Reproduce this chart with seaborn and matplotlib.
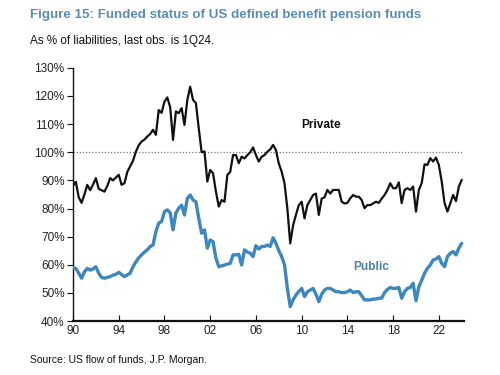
import numpy as np
import pandas as pd
import matplotlib
matplotlib.use("Agg")
import matplotlib.pyplot as plt
from matplotlib import font_manager
import seaborn as sns

# Quarterly funded status, 1Q90 .. 1Q24 (% of liabilities)
private = [
    88, 89.5, 84, 82,        # 1990
    85, 88.4, 86.5, 88.5,    # 1991
    90.8, 87, 86.5, 86,      # 1992
    88, 90.8, 90, 91,        # 1993
    92, 88.4, 89, 93,        # 1994
    95, 97, 100.2, 102.5,    # 1995
    103.8, 104.5, 105.6, 106.5,  # 1996
    108, 106.2, 115, 114,    # 1997
    118, 119.5, 116, 104.4,  # 1998
    114.5, 113.9, 115.7, 109.7,  # 1999
    118.6, 123.3, 118.6, 117.5,  # 2000
    108.5, 100, 100.3, 89.6, # 2001
    93.7, 92.5, 86, 80.7,    # 2002
    83, 82.4, 91.9, 93,      # 2003
    99, 99, 96.1, 98.4,      # 2004
    97.8, 99, 100, 101.7,    # 2005
    99, 96.7, 98.4, 99,      # 2006
    100.2, 101, 102.6, 100.8,  # 2007
    96, 93.1, 89, 80,        # 2008
    67.6, 74, 77.7, 81.2,    # 2009
    82.4, 76.5, 81.2, 83,    # 2010
    84.8, 85.3, 77.7, 83.5,  # 2011
    84, 86.6, 85.3, 86.6,    # 2012
    86.6, 86.6, 82.4, 81.8,  # 2013
    82, 83.6, 84.8, 84.2,    # 2014
    84.2, 83, 80.1, 81.2,    # 2015
    81.2, 81.8, 82.4, 82,    # 2016
    83.5, 84.8, 86.6, 89,    # 2017
    87.2, 87.2, 89.3, 81.9,  # 2018
    86.6, 87.2, 86.6, 87.8,  # 2019
    78.9, 86.6, 89, 95.7,    # 2020
    95.5, 97.9, 96.7, 98.1,  # 2021
    95.5, 89.6, 81.9, 78.9,  # 2022
    81.9, 84.8, 82.6, 87.8,  # 2023
    90.2,                    # 2024
]
public = [
    59, 58.7, 57, 55.2,      # 1990
    57.5, 58.7, 58.1, 58.5,  # 1991
    59.3, 57, 55.5, 55.2,    # 1992
    55.5, 55.8, 56.3, 56.6,  # 1993
    57.3, 56.5, 55.8, 56.4,  # 1994
    57, 59.3, 61, 62.5,      # 1995
    63.5, 64.5, 65.3, 66.5,  # 1996
    67, 71.8, 74.8, 75.4,    # 1997
    78.9, 79.5, 78.5, 72.4,  # 1998
    78.4, 80.1, 81.2, 77.7,  # 1999
    83.6, 84.8, 83, 82.4,    # 2000
    76.5, 71.2, 72.4, 65.9,  # 2001
    68.8, 68.2, 62.3, 59.3,  # 2002
    59.6, 59.9, 60.2, 60.5,  # 2003
    63.5, 63.5, 63.7, 59.9,  # 2004
    65.3, 64.5, 64.1, 62.9,  # 2005
    66.8, 65.6, 66.5, 66.5,  # 2006
    67, 66.5, 69.6, 67.6,    # 2007
    65, 62.9, 60, 51.6,      # 2008
    45.1, 47.5, 49.2, 50.5,  # 2009
    51.6, 48.7, 50.4, 51,    # 2010
    51.6, 49.5, 46.9, 49.5,  # 2011
    51, 51.6, 51.6, 51,      # 2012
    50.4, 50.4, 50.1, 50.1,  # 2013
    50.4, 51, 50.1, 50.4,    # 2014
    50.4, 49, 47.5, 47.5,    # 2015
    47.5, 47.8, 47.8, 48.1,  # 2016
    48.1, 50.1, 51.2, 51.9,  # 2017
    51.6, 51.6, 51.9, 48.1,  # 2018
    50.4, 51.6, 51.9, 53.4,  # 2019
    47.2, 52.2, 54.5, 57,    # 2020
    58.7, 59.9, 61.7, 62,    # 2021
    62.9, 60.5, 59.3, 62.9,  # 2022
    64.1, 64.7, 63.5, 65.9,  # 2023
    67.6,                    # 2024
]
start_year = 1990
x_ticks = [1990, 1994, 1998, 2002, 2006, 2010, 2014, 2018, 2022]
x_tick_labels = ["90", "94", "98", "02", "06", "10", "14", "18", "22"]
y_ticks = [40, 50, 60, 70, 80, 90, 100, 110, 120, 130]
y_tick_labels = [f"{v}%" for v in y_ticks]

n = len(private)
t = [start_year + i / 4 for i in range(n)]
df = pd.DataFrame({"t": t, "Private": private, "Public": public})

sns.set_style("white")
plt.rcParams["font.family"] = ["Liberation Sans", "DejaVu Sans"]

installed = {f.name for f in font_manager.fontManager.ttflist}
narrow = "Liberation Sans Narrow" if "Liberation Sans Narrow" in installed else "Liberation Sans"
tick_size = 9.5 if narrow == "Liberation Sans Narrow" else 8.5

fig = plt.figure(figsize=(5, 3.75), dpi=100)
ax = fig.add_axes([0.146, 0.144, 0.782, 0.675])

ax.axhline(100, color="#777777", lw=0.9, ls=(0, (1, 1.5)), zorder=1)
sns.lineplot(data=df, x="t", y="Private", ax=ax, color="#111111", lw=1.6, zorder=3)
sns.lineplot(data=df, x="t", y="Public", ax=ax, color="#3d87bf", lw=2.4, zorder=3)

ax.set_xlim(1990, 2024.2)
ax.set_ylim(40, 130)
ax.set_xticks(x_ticks)
ax.set_xticklabels(x_tick_labels)
ax.set_yticks(y_ticks)
ax.set_yticklabels(y_tick_labels)
ax.set_xlabel("")
ax.set_ylabel("")

for s in ["top", "right"]:
    ax.spines[s].set_visible(False)
ax.spines["left"].set_color("#111111")
ax.spines["left"].set_linewidth(1.0)
ax.spines["bottom"].set_color("#111111")
ax.spines["bottom"].set_linewidth(1.6)
ax.tick_params(axis="y", direction="out", length=4, width=0.8, color="#111111",
               labelsize=tick_size, labelcolor="#222222", pad=2, left=True)
ax.tick_params(axis="x", direction="in", length=4, width=0.8, color="#111111",
               labelsize=tick_size, labelcolor="#222222", pad=3, bottom=True)
for lab in ax.get_xticklabels() + ax.get_yticklabels():
    lab.set_fontfamily([narrow, "DejaVu Sans"])

ax.text(2011.7, 109.7, "Private", ha="center", va="center", fontsize=8.6,
        fontweight="bold", color="#111111")
ax.text(2016.1, 59.1, "Public", ha="center", va="center", fontsize=8.6,
        fontweight="bold", color="#4a7fae")

fig.text(30 / 500, 1 - 15 / 375, "Figure 15: Funded status of US defined benefit pension funds",
         ha="left", va="center", fontsize=9.6, fontweight="bold", color="#5b8db5")
fig.text(30 / 500, 1 - 41 / 375, "As % of liabilities, last obs. is 1Q24.",
         ha="left", va="center", fontsize=8.4, color="#111111")
fig.text(30 / 500, 1 - 360 / 375, "Source: US flow of funds, J.P. Morgan.",
         ha="left", va="center", fontsize=7.5, color="#111111")

fig.savefig("out.png", dpi=100, facecolor="white")
